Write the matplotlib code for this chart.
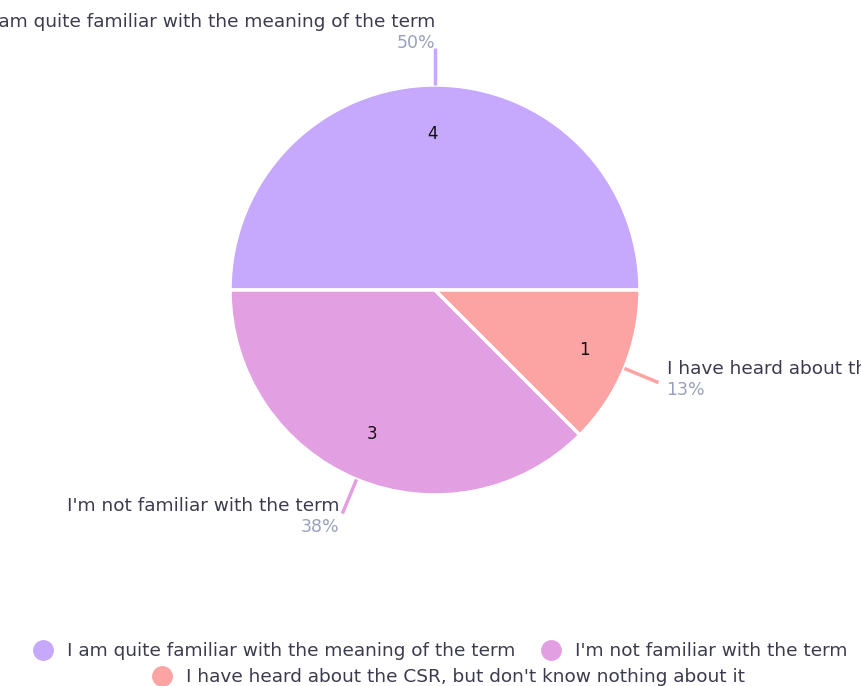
import matplotlib
matplotlib.use("Agg")
import matplotlib.pyplot as plt
from matplotlib.lines import Line2D
import numpy as np

# data
labels = ["I am quite familiar with the meaning of the term",
          "I'm not familiar with the term",
          "I have heard about the CSR, but don't know nothing about it"]
counts = [4, 3, 1]
percents = ["50%", "38%", "13%"]
colors = ["#c6a8fd", "#e2a0e2", "#fca3a3"]

W, H = 861, 686
fig = plt.figure(figsize=(W / 100, H / 100), dpi=100)
ax = fig.add_axes([0, 0, 1, 1])

cx, cy, R = 435, H - 290, 205
wedges, texts = ax.pie(counts, colors=colors, startangle=0, counterclock=True,
                       center=(cx, cy), radius=R, labels=[str(c) for c in counts],
                       labeldistance=0.76, frame=True,
                       wedgeprops=dict(edgecolor="white", linewidth=2.5),
                       textprops=dict(fontsize=12, color="#111111", family="DejaVu Sans"))
# small nudge of the inner numbers
texts[0].set_x(texts[0].get_position()[0] - 8)
texts[1].set_x(texts[1].get_position()[0] - 9)
ax.set_xlim(0, W)
ax.set_ylim(0, H)
ax.set_aspect("equal")
ax.axis("off")

txt_col = "#3b3b4d"
pct_col = "#9aa0bd"
font = "DejaVu Sans"
fs = 13.3

# outside labels with leader lines
for w, lab, pct, col in zip(wedges, labels, percents, colors):
    ang = np.deg2rad((w.theta1 + w.theta2) / 2)
    x0, y0 = cx + R * np.cos(ang), cy + R * np.sin(ang)
    x1, y1 = cx + (R + 37) * np.cos(ang), cy + (R + 37) * np.sin(ang)
    ax.plot([x0, x1], [y0, y1], color=col, lw=2.5, solid_capstyle="butt")
    if np.cos(ang) > 0.3:
        ha, tx, ty = "left", x1 + 8, y1 + 8
    elif abs(np.cos(ang)) < 0.01:
        ha, tx, ty = "right", x1, y1 + 20
    else:
        ha, tx, ty = "right", x1 - 3, y1 + 2
    ax.text(tx, ty + 6, lab, ha=ha, va="center", fontsize=fs,
            color=txt_col, family=font)
    ax.text(tx, ty - 15, pct, ha=ha, va="center", fontsize=12.5,
            color=pct_col, family=font)

# legend
def handle(c):
    return Line2D([], [], marker="o", linestyle="none", markersize=14,
                  markerfacecolor=c, markeredgecolor=c)

leg1 = fig.legend([handle(colors[0]), handle(colors[1])], labels[:2],
                  loc="center", bbox_to_anchor=(436 / W, 1 - 651 / H), ncol=2,
                  frameon=False, handletextpad=0.3, columnspacing=0.9,
                  prop=dict(family=font, size=fs))
for t in leg1.get_texts():
    t.set_color(txt_col)
leg2 = fig.legend([handle(colors[2])], labels[2:],
                  loc="center", bbox_to_anchor=(444 / W, 1 - 677 / H),
                  frameon=False, handletextpad=0.3,
                  prop=dict(family=font, size=fs))
for t in leg2.get_texts():
    t.set_color(txt_col)

fig.savefig("out.png", dpi=100, facecolor="white")
